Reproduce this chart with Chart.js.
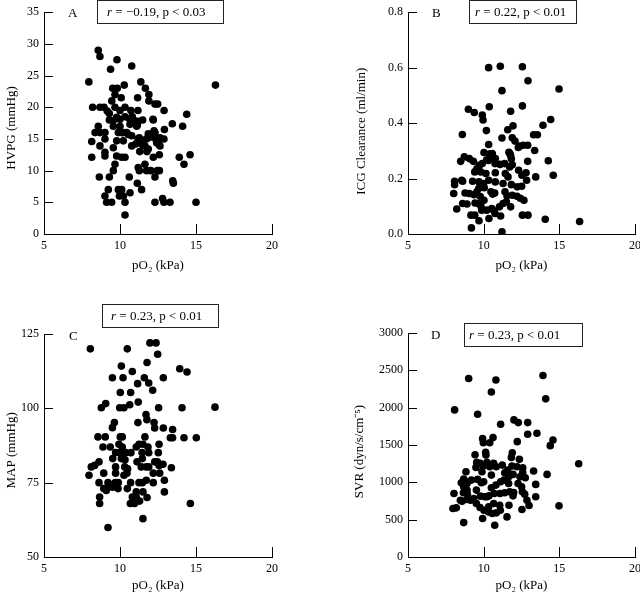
<!DOCTYPE html>
<html>
<head>
<meta charset="utf-8">
<script src="https://cdn.jsdelivr.net/npm/chart.js@4"></script>
<style>
  body { margin: 0; width: 640px; height: 596px; overflow: hidden; background: #fff; position: relative;
         font-family: "Liberation Serif", "Times New Roman", serif; color: #000; }
  canvas { position: absolute; }
  .box { position: absolute; border: 1px solid #222; box-sizing: border-box; height: 24px;
         font-size: 13px; line-height: 22px; white-space: nowrap; }
  .letter { position: absolute; font-size: 13px; line-height: 13px; }
</style>
</head>
<body>
<canvas id="chartA" style="left:0;top:0" width="330" height="290"></canvas>
<canvas id="chartB" style="left:320px;top:0" width="360" height="290"></canvas>
<canvas id="chartC" style="left:0;top:290px" width="330" height="306"></canvas>
<canvas id="chartD" style="left:320px;top:290px" width="360" height="306"></canvas>

<div class="letter" style="left:68px;top:6px">A</div>
<div class="letter" style="left:432px;top:6px">B</div>
<div class="letter" style="left:69px;top:329px">C</div>
<div class="letter" style="left:431px;top:328px">D</div>

<div class="box" style="left:97px;top:0;width:127px;padding-left:9px"><i>r</i> = −0.19, p &lt; 0.03</div>
<div class="box" style="left:469px;top:0;width:108px;padding-left:5px"><i>r</i> = 0.22, p &lt; 0.01</div>
<div class="box" style="left:102px;top:304px;width:117px;padding-left:8px"><i>r</i> = 0.23, p &lt; 0.01</div>
<div class="box" style="left:464px;top:323px;width:119px;padding-left:4px"><i>r</i> = 0.23, p &lt; 0.01</div>

<script>
// Panel A: HVPG vs pO2
const hvpgPO2 = [8.57,8.68,9.8,10.77,9.38,7.95,11.37,16.28,9.52,9.82,
  10.28,11.67,9.67,11.9,10.08,11.16,9.46,11.9,12.3,12.48,
  8.2,8.68,8.95,9.67,10.33,9.16,9.3,10.0,10.72,11.18,
  12.9,14.39,9.78,10.0,10.33,10.61,10.81,10.94,11.2,11.49,
  12.19,9.56,9.3,13.44,14.12,8.57,9.56,10.0,10.66,11.1,
  12.24,12.92,8.36,8.68,9.01,10.11,10.44,10.77,11.86,12.3,
  9.89,10.22,10.55,11.27,11.86,12.24,12.63,12.89,8.14,9.01,
  9.78,10.22,10.77,11.32,11.64,11.86,12.41,12.63,8.68,9.56,
  9.01,9.01,9.78,10.11,10.33,8.14,12.19,12.59,13.9,14.61,
  14.21,9.67,11.64,11.2,11.27,11.75,12.02,12.59,9.56,8.64,
  9.3,10.61,12.3,13.47,13.51,11.14,11.42,9.23,9.89,10.11,
  10.66,9.01,9.96,10.22,9.12,9.45,10.33,12.3,12.8,12.89,
  13.29,15.0,10.33,11.03,11.5,11.3,11.77,12.54,11.18,11.73,
  12.46,11.03,11.14,12.17];
const hvpgValues = [29,28,27.5,26.5,26,24,24,23.5,23,23,
  23.5,23,22,22,21.5,21.5,21,21,20.5,20.5,
  20,20,20,20,20,19.4,19,19.5,19.5,19.5,
  19.5,18.9,18.4,18.1,18.5,18.2,18.5,17.9,17.8,18,
  18,17.9,18,17.4,17,17,17,17,17.3,17,
  16.3,16.5,16,16,16,16,16,15.5,15.8,16,
  16,16,15.7,15.2,15.2,15.2,15.2,15,14.6,15,
  14.7,14.7,13.9,14.4,13.9,13.4,14.4,13.9,13.9,13.6,
  12.9,12.3,12.3,12.1,12.1,12.1,12.1,12.5,12.1,12.5,
  11,11,11,10.5,10,10,10,10,10,9,
  9,9,9,8.4,8,8,7,7,7,7,
  6.5,6,6,6,5,5,5,5,5.6,5,
  5,5,3,14.2,14,13,13,14.2,15,15,
  10,17.6,17.2,18.1];

// Panel B: ICG clearance vs pO2
const icgPO2 = [10.33,11.1,12.56,12.93,11.21,14.98,8.99,9.38,10.37,12.56,
  11.78,9.91,9.96,14.43,10.18,11.59,11.94,13.92,8.59,11.21,
  11.89,12.07,13.3,13.55,10.33,12.38,12.62,12.91,13.37,11.67,
  11.78,11.83,10.02,10.57,14.27,12.91,8.48,8.72,9.05,9.32,
  9.71,9.91,9.56,10.2,10.42,10.77,10.75,11.08,11.39,11.72,
  11.89,9.41,9.8,10.15,10.77,11.43,11.61,12.31,12.53,12.8,
  12.84,13.44,14.6,8.08,8.08,8.61,9.27,9.69,10.0,10.33,
  10.77,11.28,11.83,9.67,9.54,10.04,12.22,12.51,8.02,8.77,
  9.05,9.36,9.78,10.02,9.65,9.82,10.48,10.59,10.73,11.41,
  11.54,11.89,12.2,12.42,12.66,8.61,8.9,9.43,8.22,9.87,
  10.2,10.53,10.68,11.04,11.28,11.5,11.78,9.16,9.41,10.35,
  9.69,10.75,11.12,12.56,12.93,14.07,16.34,9.19,11.21,10.42,
  11.74,12.29,8.55,10.31];
const icgValues = [0.6,0.605,0.603,0.553,0.517,0.523,0.45,0.438,0.459,0.462,
  0.443,0.429,0.411,0.413,0.373,0.376,0.39,0.392,0.359,0.346,
  0.347,0.335,0.358,0.358,0.323,0.317,0.32,0.32,0.301,0.295,
  0.283,0.271,0.294,0.29,0.264,0.262,0.262,0.278,0.272,0.262,
  0.248,0.254,0.236,0.268,0.278,0.272,0.254,0.251,0.254,0.242,
  0.25,0.224,0.224,0.218,0.221,0.218,0.206,0.23,0.212,0.221,
  0.194,0.206,0.212,0.19,0.178,0.19,0.19,0.188,0.182,0.194,
  0.188,0.182,0.178,0.164,0.151,0.167,0.17,0.172,0.146,0.148,
  0.146,0.142,0.135,0.122,0.11,0.1,0.152,0.144,0.148,0.152,
  0.138,0.14,0.136,0.129,0.122,0.11,0.108,0.112,0.09,0.086,
  0.086,0.092,0.084,0.098,0.11,0.116,0.098,0.068,0.068,0.056,
  0.048,0.074,0.065,0.068,0.068,0.053,0.045,0.022,0.008,0.289,
  0.289,0.312,0.194,0.265];

// Panel C: MAP vs pO2
const mapPO2 = [8.05,10.48,11.97,12.37,12.48,11.78,10.09,13.93,14.41,10.81,
  9.5,10.2,11.6,12.85,11.89,10.02,10.7,11.16,12.15,11.2,
  9.06,8.77,9.98,10.26,10.64,12.54,14.08,16.25,11.71,11.77,
  9.63,9.5,11.18,12.24,12.28,12.85,13.46,8.55,9.03,10.02,
  10.15,11.64,13.31,13.46,14.21,15.02,8.88,9.36,9.93,10.15,
  11.07,11.25,11.51,11.84,12.57,9.71,9.98,10.37,10.72,11.45,
  11.89,12.52,9.52,10.09,10.33,11.47,8.62,8.33,8.11,7.96,
  9.71,10.31,10.5,11.12,11.4,11.73,11.89,12.28,12.46,12.57,
  12.83,13.38,8.93,9.71,10.26,10.46,12.19,12.61,8.62,9.21,
  9.36,9.69,9.89,10.7,11.25,11.47,11.73,12.19,12.92,8.93,
  9.1,9.5,9.87,10.48,11.07,11.51,12.92,8.66,8.66,10.81,
  11.07,10.68,10.96,11.29,11.78,14.63,11.51,9.21];
const mapValues = [120,120,122,122,118.2,115.4,114.2,113.3,112.2,112.4,
  110.3,110.3,110.3,110.3,108.5,105.3,105.3,108.3,106.1,102.1,
  101.6,100.2,100.2,100.2,101.2,100.2,100.2,100.4,97.9,96.2,
  95.2,93.5,95.2,95.2,93.4,93.4,92.9,90.4,90.4,90.4,
  90.4,90.4,90.1,90.1,90.1,90.1,87,87,87.9,87,
  87,87.9,87.9,87,87.9,85.1,85.1,85.1,85.1,85.1,
  85.1,85.1,83.1,83.1,82.7,83.1,82,80.8,80.3,77.5,
  80.3,80.3,79.7,82,80.3,80.3,80.3,82,82,80.8,
  81.2,80,78.2,78.2,77.5,78.2,78.2,78.2,75,75,
  74.4,75,75,75,75,75,75.8,75,75.8,73,
  72.4,73.5,73,73,71.9,71.9,71.9,70.2,68,70.2,
  70.2,68,68,68.8,70,68,62.9,59.9];

// Panel D: SVR vs pO2
const svrPO2 = [9.01,10.81,10.51,13.92,14.1,8.08,9.6,11.12,12.0,12.29,
  12.91,12.91,13.52,10.62,9.93,9.98,10.4,12.22,14.58,14.4,
  9.43,10.13,10.15,11.89,12.36,11.83,16.28,9.54,9.78,10.22,
  9.49,9.96,10.4,10.66,10.83,11.23,11.59,11.87,12.2,13.3,
  14.19,12.58,12.58,8.83,9.89,10.51,11.39,11.65,11.94,12.4,
  12.75,9.19,9.6,8.68,8.83,8.52,8.9,9.85,10.0,11.12,
  11.34,11.65,12.27,13.44,12.51,9.52,8.68,10.51,10.81,8.04,
  8.66,8.92,8.9,10.7,11.08,11.39,11.72,11.98,12.56,12.71,
  9.78,10.07,10.35,9.34,8.9,8.46,8.57,10.22,11.94,12.86,
  13.44,9.52,9.14,10.66,11.06,11.67,7.97,8.19,9.76,10.33,
  13.0,12.53,14.98,10.02,10.33,10.57,10.84,11.1,9.93,11.54,
  8.68,10.73];
const svrValues = [2390,2370,2210,2430,2118,1970,1912,1778,1836,1800,
  1800,1643,1657,1599,1585,1531,1531,1545,1567,1491,
  1370,1402,1366,1397,1308,1334,1249,1267,1254,1267,
  1200,1218,1209,1254,1209,1231,1164,1218,1209,1151,
  1106,1196,1133,1142,1142,1097,1128,1075,1106,1075,
  1061,1030,1039,1043,1008,994,985,994,1008,1008,
  1030,985,985,972,940,896,940,927,963,851,
  860,842,896,851,851,860,873,864,873,842,
  815,806,819,784,770,761,748,806,819,761,
  806,716,761,716,694,694,649,658,663,672,
  690,636,685,627,604,582,591,627,515,537,
  461,425];

Chart.defaults.font.family = '"Liberation Serif", "Times New Roman", serif';
Chart.defaults.color = "#000";

// short tick marks drawn into the plot, as in the original figure
const inwardTicks = {
  id: "inwardTicks",
  afterDraw(chart) {
    const { ctx, chartArea, scales } = chart;
    ctx.save();
    ctx.strokeStyle = "#000";
    ctx.lineWidth = 1;
    ctx.beginPath();
    scales.x.ticks.forEach(t => {
      const px = Math.round(scales.x.getPixelForValue(t.value)) + 0.5;
      ctx.moveTo(px, chartArea.bottom);
      ctx.lineTo(px, chartArea.bottom - 10);
    });
    scales.y.ticks.forEach(t => {
      const py = Math.round(scales.y.getPixelForValue(t.value)) + 0.5;
      ctx.moveTo(chartArea.left, py);
      ctx.lineTo(chartArea.left + 9, py);
    });
    ctx.stroke();
    ctx.restore();
  }
};

function drawPanel(id, xs, ys, yAxis, box) {
  const points = xs.map((x, i) => ({ x: x, y: ys[i] }));
  return new Chart(document.getElementById(id), {
    type: "scatter",
    data: {
      datasets: [{
        data: points,
        backgroundColor: "#000",
        borderWidth: 0,
        pointRadius: 3.8,
        pointHoverRadius: 3.8
      }]
    },
    options: {
      responsive: false,
      animation: false,
      devicePixelRatio: 1,
      layout: { padding: box.padding },
      plugins: { legend: { display: false }, tooltip: { enabled: false } },
      scales: {
        x: {
          min: 5, max: 20,
          ticks: { stepSize: 5, padding: 5, maxRotation: 0, font: { size: 12 }, callback: v => String(v) },
          grid: { display: false, drawTicks: false },
          border: { color: "#000", width: 1 },
          title: { display: true, text: "pO₂ (kPa)", font: { size: 13 }, padding: { top: 0, bottom: box.xTitlePad } },
          afterFit: s => { s.height = box.xHeight; }
        },
        y: {
          min: yAxis.min, max: yAxis.max,
          ticks: { stepSize: yAxis.step, padding: 5, font: { size: 12 },
                   callback: v => yAxis.decimals ? v.toFixed(yAxis.decimals) : String(v) },
          grid: { display: false, drawTicks: false },
          border: { color: "#000", width: 1 },
          // trailing spaces nudge the rotated title a little lower, like the original
          title: { display: true, text: yAxis.title + " ".repeat(box.titleNudge), font: { size: 13 },
                   padding: { top: box.yTitlePad, bottom: 0 } },
          afterFit: s => { s.width = box.yWidth; }
        }
      }
    },
    plugins: [inwardTicks]
  });
}

drawPanel("chartA", hvpgPO2, hvpgValues,
  { min: 0, max: 35, step: 5, title: "HVPG (mmHg)" },
  { padding: { left: 0, top: 10, right: 58, bottom: 0 }, yWidth: 44, xHeight: 56, xTitlePad: 17, yTitlePad: 4, titleNudge: 3 });

drawPanel("chartB", icgPO2, icgValues,
  { min: 0, max: 0.8, step: 0.2, decimals: 1, title: "ICG Clearance (ml/min)" },
  { padding: { left: 0, top: 11, right: 45, bottom: 0 }, yWidth: 88, xHeight: 56, xTitlePad: 17, yTitlePad: 34, titleNudge: 5 });

drawPanel("chartC", mapPO2, mapValues,
  { min: 50, max: 125, step: 25, title: "MAP (mmHg)" },
  { padding: { left: 0, top: 44, right: 58, bottom: 0 }, yWidth: 44, xHeight: 39, xTitlePad: 3, yTitlePad: 4, titleNudge: 3 });

drawPanel("chartD", svrPO2, svrValues,
  { min: 0, max: 3000, step: 500, title: "SVR (dyn/s/cm⁻⁵)" },
  { padding: { left: 0, top: 43, right: 45, bottom: 0 }, yWidth: 88, xHeight: 39, xTitlePad: 3, yTitlePad: 32, titleNudge: 4 });
</script>
</body>
</html>
